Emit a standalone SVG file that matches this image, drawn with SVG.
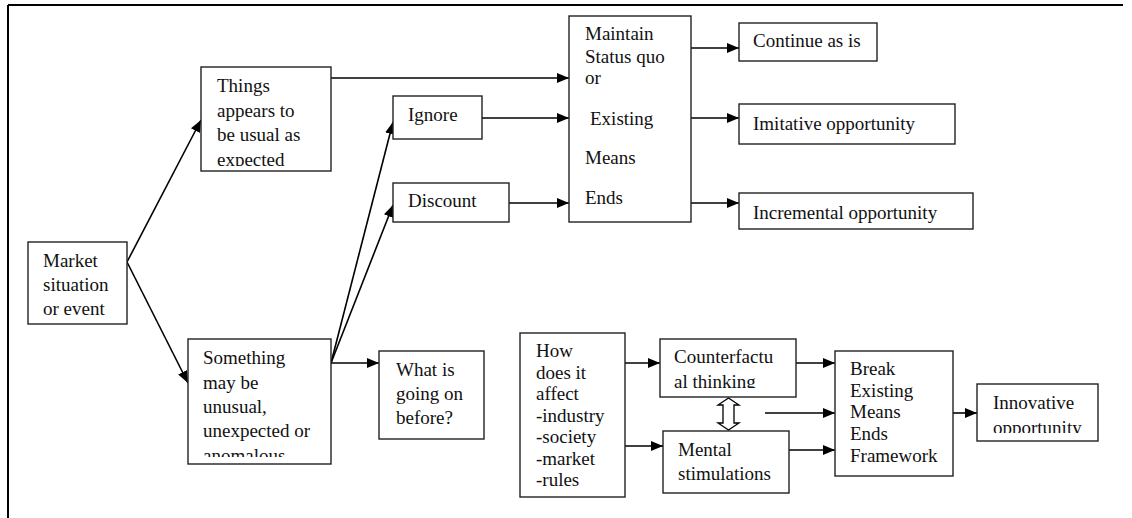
<svg xmlns="http://www.w3.org/2000/svg" width="1132" height="518" viewBox="0 0 1132 518">
<style>
.box{fill:#fff;stroke:#222;stroke-width:1.4}
.ln{fill:none;stroke:#000;stroke-width:1.6}
text{font-family:"Liberation Serif","Times New Roman",serif;font-size:19px;fill:#111}
</style>
<defs>
<marker id="ah" markerUnits="userSpaceOnUse" markerWidth="12" markerHeight="10" viewBox="0 0 12 10" refX="12" refY="5" orient="auto">
<path d="M0,0 L12,5 L0,10 z" fill="#000"/>
</marker>
<clipPath id="c-things"><rect x="201" y="67" width="130" height="99"/></clipPath>
<clipPath id="c-some"><rect x="188" y="339" width="143" height="118"/></clipPath>
<clipPath id="c-cf"><rect x="660" y="339" width="136" height="49"/></clipPath>
<clipPath id="c-inno"><rect x="977" y="384" width="121" height="49"/></clipPath>
</defs>
<rect width="1132" height="518" fill="#fff"/>
<g id="frame">
<line x1="8" y1="5" x2="1123" y2="5" stroke="#000" stroke-width="2"/>
<line x1="8" y1="5" x2="8" y2="518" stroke="#000" stroke-width="2"/>
</g>
<g id="connectors">
<line class="ln" x1="127" y1="262" x2="201" y2="120" marker-end="url(#ah)"/>
<line class="ln" x1="127" y1="262" x2="188" y2="383" marker-end="url(#ah)"/>
<line class="ln" x1="331" y1="78" x2="569" y2="78" marker-end="url(#ah)"/>
<line class="ln" x1="331" y1="363" x2="393" y2="122" marker-end="url(#ah)"/>
<line class="ln" x1="331" y1="363" x2="393" y2="205" marker-end="url(#ah)"/>
<line class="ln" x1="331" y1="363" x2="379" y2="363" marker-end="url(#ah)"/>
<line class="ln" x1="482" y1="118" x2="569" y2="118" marker-end="url(#ah)"/>
<line class="ln" x1="509" y1="203" x2="569" y2="203" marker-end="url(#ah)"/>
<line class="ln" x1="691" y1="48" x2="739" y2="48" marker-end="url(#ah)"/>
<line class="ln" x1="691" y1="118" x2="739" y2="118" marker-end="url(#ah)"/>
<line class="ln" x1="691" y1="203" x2="739" y2="203" marker-end="url(#ah)"/>
<line class="ln" x1="625" y1="363" x2="660" y2="363" marker-end="url(#ah)"/>
<line class="ln" x1="625" y1="446" x2="663" y2="446" marker-end="url(#ah)"/>
<line class="ln" x1="796" y1="363" x2="835" y2="363" marker-end="url(#ah)"/>
<line class="ln" x1="765" y1="413" x2="835" y2="413" marker-end="url(#ah)"/>
<line class="ln" x1="789" y1="450" x2="835" y2="450" marker-end="url(#ah)"/>
<line class="ln" x1="953" y1="413" x2="977" y2="413" marker-end="url(#ah)"/>
<polygon points="728.5,398 739,405 734,405 734,423 739,423 728.5,430 718,423 723,423 723,405 718,405" fill="#fff" stroke="#000" stroke-width="1.3"/>
</g>
<g id="market">
<rect class="box" x="28" y="242" width="99" height="82"/>
<text x="43" y="267">Market</text>
<text x="43" y="291">situation</text>
<text x="43" y="315">or event</text>
</g>
<g id="things">
<rect class="box" x="201" y="67" width="130" height="104"/>
<g clip-path="url(#c-things)">
<text x="217" y="92">Things</text>
<text x="217" y="117">appears to</text>
<text x="217" y="141">be usual as</text>
<text x="217" y="166">expected</text>
</g>
</g>
<g id="something">
<rect class="box" x="188" y="339" width="143" height="125"/>
<g clip-path="url(#c-some)">
<text x="203" y="364">Something</text>
<text x="203" y="388.5">may be</text>
<text x="203" y="413">unusual,</text>
<text x="203" y="437.3">unexpected or</text>
<text x="203" y="461.7">anomalous</text>
</g>
</g>
<g id="ignore">
<rect class="box" x="393" y="96" width="89" height="43"/>
<text x="408" y="121">Ignore</text>
</g>
<g id="discount">
<rect class="box" x="393" y="183" width="116" height="39"/>
<text x="408" y="207">Discount</text>
</g>
<g id="whatis">
<rect class="box" x="379" y="351" width="105" height="88"/>
<text x="396" y="376">What is</text>
<text x="396" y="400">going on</text>
<text x="396" y="424">before?</text>
</g>
<g id="maintain">
<rect class="box" x="569" y="16" width="122" height="206"/>
<text x="585" y="40">Maintain</text>
<text x="585" y="62.5">Status quo</text>
<text x="585" y="84">or</text>
<text x="590" y="125">Existing</text>
<text x="585" y="164">Means</text>
<text x="585" y="203.5">Ends</text>
</g>
<g id="continue">
<rect class="box" x="739" y="23" width="138" height="38"/>
<text x="753" y="47">Continue as is</text>
</g>
<g id="imitative">
<rect class="box" x="739" y="104" width="216" height="40"/>
<text x="753" y="129.5">Imitative opportunity</text>
</g>
<g id="incremental">
<rect class="box" x="739" y="193" width="234" height="36"/>
<text x="753" y="218.5">Incremental opportunity</text>
</g>
<g id="howaffect">
<rect class="box" x="520" y="333" width="105" height="164"/>
<text x="536" y="357">How</text>
<text x="536" y="378.5">does it</text>
<text x="536" y="400">affect</text>
<text x="536" y="421.5">-industry</text>
<text x="536" y="443">-society</text>
<text x="536" y="464.5">-market</text>
<text x="536" y="485.5">-rules</text>
</g>
<g id="counterfactual">
<rect class="box" x="660" y="339" width="136" height="58"/>
<g clip-path="url(#c-cf)">
<text x="674" y="363">Counterfactu</text>
<text x="674" y="387.5">al thinking</text>
</g>
</g>
<g id="mental">
<rect class="box" x="663" y="431" width="126" height="62"/>
<text x="678" y="456">Mental</text>
<text x="678" y="480">stimulations</text>
</g>
<g id="break">
<rect class="box" x="835" y="351" width="118" height="125"/>
<text x="850" y="375">Break</text>
<text x="850" y="397">Existing</text>
<text x="850" y="418">Means</text>
<text x="850" y="440">Ends</text>
<text x="850" y="462">Framework</text>
</g>
<g id="innovative">
<rect class="box" x="977" y="384" width="121" height="57"/>
<g clip-path="url(#c-inno)">
<text x="993" y="409">Innovative</text>
<text x="993" y="433.5">opportunity</text>
</g>
</g>
</svg>
